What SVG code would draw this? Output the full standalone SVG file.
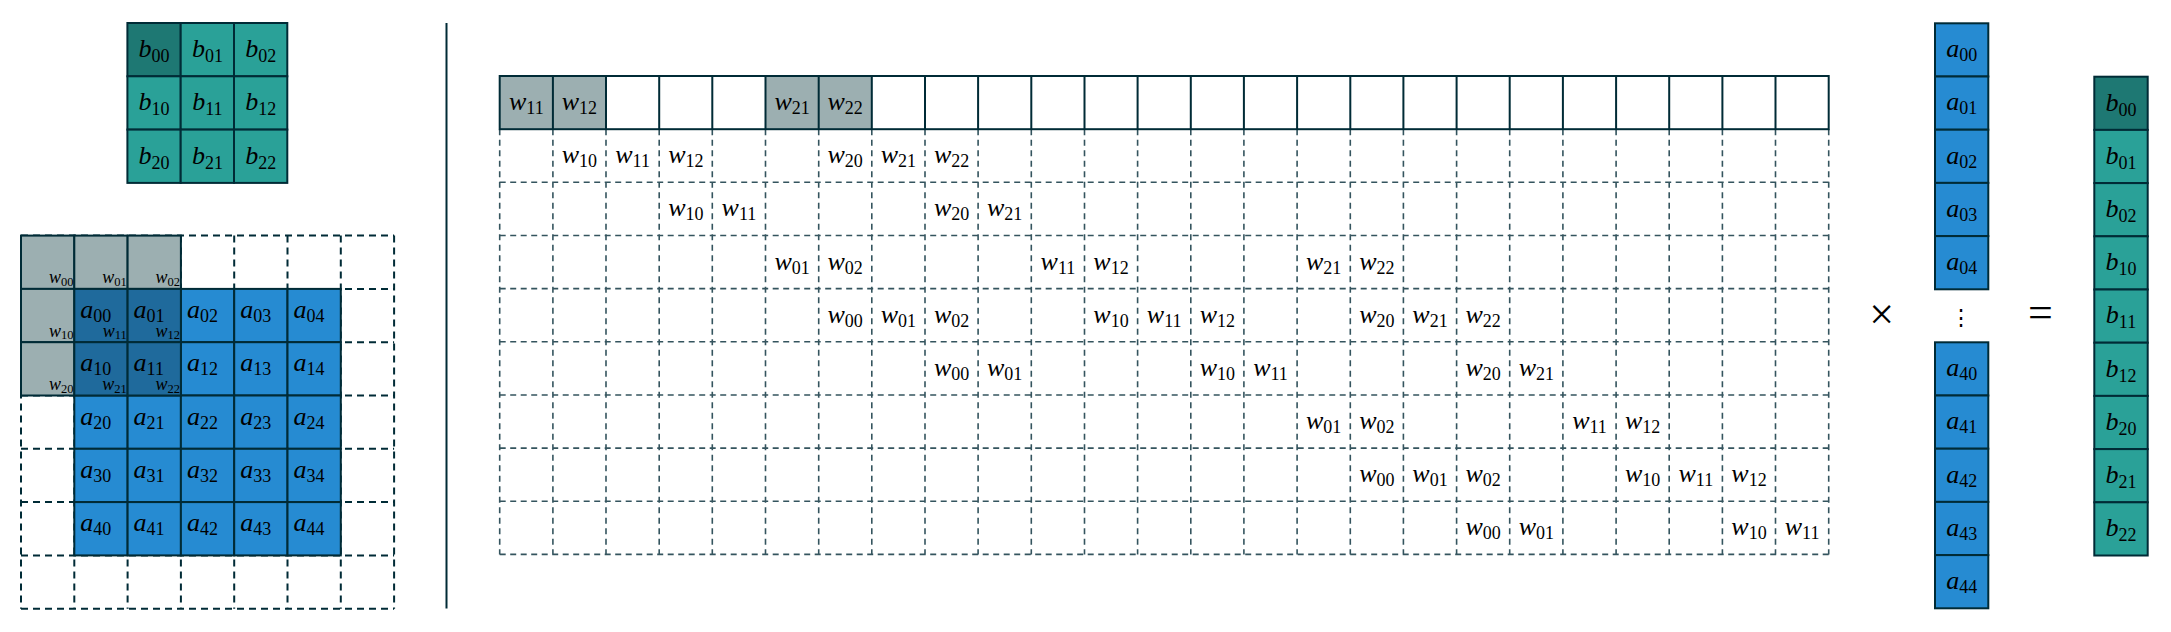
<svg xmlns="http://www.w3.org/2000/svg" width="2171" height="632" viewBox="0 0 2171 632">
<style>
.c{stroke:#002b36;stroke-width:2}
.g{fill:#9cafb1}
.bl{fill:#268bd2}
.db{fill:#1f6a9c}
.tl{fill:#2aa198}
.td{fill:#1e7873}
.wh{fill:#ffffff}
.dl{fill:none;stroke:#002b36;stroke-width:2;stroke-dasharray:7 5}
.dm{fill:none;stroke:#34545e;stroke-width:1.6;stroke-dasharray:6 4.5}
.sl{fill:none;stroke:#002b36;stroke-width:2}
text{font-family:"Liberation Serif","DejaVu Serif",serif;font-size:26px;fill:#000}
.m{text-anchor:middle}
.e{text-anchor:end}
.i{font-style:italic}
.s{font-size:18px}
.ss{font-size:12.5px}
.sw{font-size:18px}
</style>

<g id="output-kernel">
<rect class="c td" x="127.4" y="23" width="53.3" height="53.3"/>
<rect class="c tl" x="180.7" y="23" width="53.3" height="53.3"/>
<rect class="c tl" x="234" y="23" width="53.3" height="53.3"/>
<rect class="c tl" x="127.4" y="76.3" width="53.3" height="53.3"/>
<rect class="c tl" x="180.7" y="76.3" width="53.3" height="53.3"/>
<rect class="c tl" x="234" y="76.3" width="53.3" height="53.3"/>
<rect class="c tl" x="127.4" y="129.6" width="53.3" height="53.3"/>
<rect class="c tl" x="180.7" y="129.6" width="53.3" height="53.3"/>
<rect class="c tl" x="234" y="129.6" width="53.3" height="53.3"/>
<text class="m" x="154" y="57"><tspan class="i">b</tspan><tspan class="s" dy="5">00</tspan></text>
<text class="m" x="207.4" y="57"><tspan class="i">b</tspan><tspan class="s" dy="5">01</tspan></text>
<text class="m" x="260.7" y="57"><tspan class="i">b</tspan><tspan class="s" dy="5">02</tspan></text>
<text class="m" x="154" y="110.3"><tspan class="i">b</tspan><tspan class="s" dy="5">10</tspan></text>
<text class="m" x="207.4" y="110.3"><tspan class="i">b</tspan><tspan class="s" dy="5">11</tspan></text>
<text class="m" x="260.7" y="110.3"><tspan class="i">b</tspan><tspan class="s" dy="5">12</tspan></text>
<text class="m" x="154" y="163.6"><tspan class="i">b</tspan><tspan class="s" dy="5">20</tspan></text>
<text class="m" x="207.4" y="163.6"><tspan class="i">b</tspan><tspan class="s" dy="5">21</tspan></text>
<text class="m" x="260.7" y="163.6"><tspan class="i">b</tspan><tspan class="s" dy="5">22</tspan></text>
</g>

<g id="input-grid">
<path class="dl" d="M21 235.6H394.1M21 288.9H394.1M21 342.2H394.1M21 395.5H394.1M21 448.8H394.1M21 502.1H394.1M21 555.4H394.1M21 608.7H394.1M21 235.6V608.7M74.3 235.6V608.7M127.6 235.6V608.7M180.9 235.6V608.7M234.2 235.6V608.7M287.5 235.6V608.7M340.8 235.6V608.7M394.1 235.6V608.7"/>
<rect class="c g" x="21" y="235.6" width="53.3" height="53.3"/>
<rect class="c g" x="74.3" y="235.6" width="53.3" height="53.3"/>
<rect class="c g" x="127.6" y="235.6" width="53.3" height="53.3"/>
<rect class="c g" x="21" y="288.9" width="53.3" height="53.3"/>
<rect class="c g" x="21" y="342.2" width="53.3" height="53.3"/>
<rect class="c bl" x="180.9" y="288.9" width="53.3" height="53.3"/>
<rect class="c bl" x="234.2" y="288.9" width="53.3" height="53.3"/>
<rect class="c bl" x="287.5" y="288.9" width="53.3" height="53.3"/>
<rect class="c bl" x="180.9" y="342.2" width="53.3" height="53.3"/>
<rect class="c bl" x="234.2" y="342.2" width="53.3" height="53.3"/>
<rect class="c bl" x="287.5" y="342.2" width="53.3" height="53.3"/>
<rect class="c bl" x="74.3" y="395.5" width="53.3" height="53.3"/>
<rect class="c bl" x="127.6" y="395.5" width="53.3" height="53.3"/>
<rect class="c bl" x="180.9" y="395.5" width="53.3" height="53.3"/>
<rect class="c bl" x="234.2" y="395.5" width="53.3" height="53.3"/>
<rect class="c bl" x="287.5" y="395.5" width="53.3" height="53.3"/>
<rect class="c bl" x="74.3" y="448.8" width="53.3" height="53.3"/>
<rect class="c bl" x="127.6" y="448.8" width="53.3" height="53.3"/>
<rect class="c bl" x="180.9" y="448.8" width="53.3" height="53.3"/>
<rect class="c bl" x="234.2" y="448.8" width="53.3" height="53.3"/>
<rect class="c bl" x="287.5" y="448.8" width="53.3" height="53.3"/>
<rect class="c bl" x="74.3" y="502.1" width="53.3" height="53.3"/>
<rect class="c bl" x="127.6" y="502.1" width="53.3" height="53.3"/>
<rect class="c bl" x="180.9" y="502.1" width="53.3" height="53.3"/>
<rect class="c bl" x="234.2" y="502.1" width="53.3" height="53.3"/>
<rect class="c bl" x="287.5" y="502.1" width="53.3" height="53.3"/>
<rect class="c db" x="74.3" y="288.9" width="53.3" height="53.3"/>
<rect class="c db" x="127.6" y="288.9" width="53.3" height="53.3"/>
<rect class="c db" x="74.3" y="342.2" width="53.3" height="53.3"/>
<rect class="c db" x="127.6" y="342.2" width="53.3" height="53.3"/>
<text x="80.3" y="318"><tspan class="i">a</tspan><tspan class="s" dy="4">00</tspan></text>
<text x="133.6" y="318"><tspan class="i">a</tspan><tspan class="s" dy="4">01</tspan></text>
<text x="186.9" y="318"><tspan class="i">a</tspan><tspan class="s" dy="4">02</tspan></text>
<text x="240.2" y="318"><tspan class="i">a</tspan><tspan class="s" dy="4">03</tspan></text>
<text x="293.5" y="318"><tspan class="i">a</tspan><tspan class="s" dy="4">04</tspan></text>
<text x="80.3" y="371.3"><tspan class="i">a</tspan><tspan class="s" dy="4">10</tspan></text>
<text x="133.6" y="371.3"><tspan class="i">a</tspan><tspan class="s" dy="4">11</tspan></text>
<text x="186.9" y="371.3"><tspan class="i">a</tspan><tspan class="s" dy="4">12</tspan></text>
<text x="240.2" y="371.3"><tspan class="i">a</tspan><tspan class="s" dy="4">13</tspan></text>
<text x="293.5" y="371.3"><tspan class="i">a</tspan><tspan class="s" dy="4">14</tspan></text>
<text x="80.3" y="424.6"><tspan class="i">a</tspan><tspan class="s" dy="4">20</tspan></text>
<text x="133.6" y="424.6"><tspan class="i">a</tspan><tspan class="s" dy="4">21</tspan></text>
<text x="186.9" y="424.6"><tspan class="i">a</tspan><tspan class="s" dy="4">22</tspan></text>
<text x="240.2" y="424.6"><tspan class="i">a</tspan><tspan class="s" dy="4">23</tspan></text>
<text x="293.5" y="424.6"><tspan class="i">a</tspan><tspan class="s" dy="4">24</tspan></text>
<text x="80.3" y="477.9"><tspan class="i">a</tspan><tspan class="s" dy="4">30</tspan></text>
<text x="133.6" y="477.9"><tspan class="i">a</tspan><tspan class="s" dy="4">31</tspan></text>
<text x="186.9" y="477.9"><tspan class="i">a</tspan><tspan class="s" dy="4">32</tspan></text>
<text x="240.2" y="477.9"><tspan class="i">a</tspan><tspan class="s" dy="4">33</tspan></text>
<text x="293.5" y="477.9"><tspan class="i">a</tspan><tspan class="s" dy="4">34</tspan></text>
<text x="80.3" y="531.2"><tspan class="i">a</tspan><tspan class="s" dy="4">40</tspan></text>
<text x="133.6" y="531.2"><tspan class="i">a</tspan><tspan class="s" dy="4">41</tspan></text>
<text x="186.9" y="531.2"><tspan class="i">a</tspan><tspan class="s" dy="4">42</tspan></text>
<text x="240.2" y="531.2"><tspan class="i">a</tspan><tspan class="s" dy="4">43</tspan></text>
<text x="293.5" y="531.2"><tspan class="i">a</tspan><tspan class="s" dy="4">44</tspan></text>
<text class="e sw" x="73.5" y="283.4"><tspan class="i">w</tspan><tspan class="ss" dy="2.5">00</tspan></text>
<text class="e sw" x="126.8" y="283.4"><tspan class="i">w</tspan><tspan class="ss" dy="2.5">01</tspan></text>
<text class="e sw" x="180.1" y="283.4"><tspan class="i">w</tspan><tspan class="ss" dy="2.5">02</tspan></text>
<text class="e sw" x="73.5" y="336.7"><tspan class="i">w</tspan><tspan class="ss" dy="2.5">10</tspan></text>
<text class="e sw" x="126.8" y="336.7"><tspan class="i">w</tspan><tspan class="ss" dy="2.5">11</tspan></text>
<text class="e sw" x="180.1" y="336.7"><tspan class="i">w</tspan><tspan class="ss" dy="2.5">12</tspan></text>
<text class="e sw" x="73.5" y="390"><tspan class="i">w</tspan><tspan class="ss" dy="2.5">20</tspan></text>
<text class="e sw" x="126.8" y="390"><tspan class="i">w</tspan><tspan class="ss" dy="2.5">21</tspan></text>
<text class="e sw" x="180.1" y="390"><tspan class="i">w</tspan><tspan class="ss" dy="2.5">22</tspan></text>
</g>

<g id="separator">
<path class="sl" d="M446.5 23V608.5"/>
</g>

<g id="matrix">
<path class="dm" d="M499.7 182.3H1828.7M499.7 235.5H1828.7M499.7 288.6H1828.7M499.7 341.8H1828.7M499.7 395H1828.7M499.7 448.1H1828.7M499.7 501.3H1828.7M499.7 554.4H1828.7M499.7 129.2V554.4M552.9 129.2V554.4M606 129.2V554.4M659.2 129.2V554.4M712.3 129.2V554.4M765.5 129.2V554.4M818.7 129.2V554.4M871.8 129.2V554.4M925 129.2V554.4M978.1 129.2V554.4M1031.3 129.2V554.4M1084.5 129.2V554.4M1137.6 129.2V554.4M1190.8 129.2V554.4M1243.9 129.2V554.4M1297.1 129.2V554.4M1350.3 129.2V554.4M1403.4 129.2V554.4M1456.6 129.2V554.4M1509.7 129.2V554.4M1562.9 129.2V554.4M1616.1 129.2V554.4M1669.2 129.2V554.4M1722.4 129.2V554.4M1775.5 129.2V554.4M1828.7 129.2V554.4"/>
<rect class="wh" x="499.7" y="76" width="1329" height="53.2"/>
<rect class="g" x="499.7" y="76" width="53.16" height="53.2"/>
<rect class="g" x="552.9" y="76" width="53.16" height="53.2"/>
<rect class="g" x="765.5" y="76" width="53.16" height="53.2"/>
<rect class="g" x="818.7" y="76" width="53.16" height="53.2"/>
<rect class="sl" x="499.7" y="76" width="1329" height="53.2"/>
<path class="sl" d="M552.9 76V129.2M606 76V129.2M659.2 76V129.2M712.3 76V129.2M765.5 76V129.2M818.7 76V129.2M871.8 76V129.2M925 76V129.2M978.1 76V129.2M1031.3 76V129.2M1084.5 76V129.2M1137.6 76V129.2M1190.8 76V129.2M1243.9 76V129.2M1297.1 76V129.2M1350.3 76V129.2M1403.4 76V129.2M1456.6 76V129.2M1509.7 76V129.2M1562.9 76V129.2M1616.1 76V129.2M1669.2 76V129.2M1722.4 76V129.2M1775.5 76V129.2"/>
<text class="m" x="526.3" y="110"><tspan class="i">w</tspan><tspan class="s" dy="4">11</tspan></text>
<text class="m" x="579.4" y="110"><tspan class="i">w</tspan><tspan class="s" dy="4">12</tspan></text>
<text class="m" x="792.1" y="110"><tspan class="i">w</tspan><tspan class="s" dy="4">21</tspan></text>
<text class="m" x="845.2" y="110"><tspan class="i">w</tspan><tspan class="s" dy="4">22</tspan></text>

<text class="m" x="579.4" y="163.1"><tspan class="i">w</tspan><tspan class="s" dy="4">10</tspan></text>
<text class="m" x="632.6" y="163.1"><tspan class="i">w</tspan><tspan class="s" dy="4">11</tspan></text>
<text class="m" x="685.8" y="163.1"><tspan class="i">w</tspan><tspan class="s" dy="4">12</tspan></text>
<text class="m" x="845.2" y="163.1"><tspan class="i">w</tspan><tspan class="s" dy="4">20</tspan></text>
<text class="m" x="898.4" y="163.1"><tspan class="i">w</tspan><tspan class="s" dy="4">21</tspan></text>
<text class="m" x="951.6" y="163.1"><tspan class="i">w</tspan><tspan class="s" dy="4">22</tspan></text>

<text class="m" x="685.8" y="216.3"><tspan class="i">w</tspan><tspan class="s" dy="4">10</tspan></text>
<text class="m" x="738.9" y="216.3"><tspan class="i">w</tspan><tspan class="s" dy="4">11</tspan></text>
<text class="m" x="951.6" y="216.3"><tspan class="i">w</tspan><tspan class="s" dy="4">20</tspan></text>
<text class="m" x="1004.7" y="216.3"><tspan class="i">w</tspan><tspan class="s" dy="4">21</tspan></text>

<text class="m" x="792.1" y="269.5"><tspan class="i">w</tspan><tspan class="s" dy="4">01</tspan></text>
<text class="m" x="845.2" y="269.5"><tspan class="i">w</tspan><tspan class="s" dy="4">02</tspan></text>
<text class="m" x="1057.9" y="269.5"><tspan class="i">w</tspan><tspan class="s" dy="4">11</tspan></text>
<text class="m" x="1111" y="269.5"><tspan class="i">w</tspan><tspan class="s" dy="4">12</tspan></text>
<text class="m" x="1323.7" y="269.5"><tspan class="i">w</tspan><tspan class="s" dy="4">21</tspan></text>
<text class="m" x="1376.8" y="269.5"><tspan class="i">w</tspan><tspan class="s" dy="4">22</tspan></text>

<text class="m" x="845.2" y="322.6"><tspan class="i">w</tspan><tspan class="s" dy="4">00</tspan></text>
<text class="m" x="898.4" y="322.6"><tspan class="i">w</tspan><tspan class="s" dy="4">01</tspan></text>
<text class="m" x="951.6" y="322.6"><tspan class="i">w</tspan><tspan class="s" dy="4">02</tspan></text>
<text class="m" x="1111" y="322.6"><tspan class="i">w</tspan><tspan class="s" dy="4">10</tspan></text>
<text class="m" x="1164.2" y="322.6"><tspan class="i">w</tspan><tspan class="s" dy="4">11</tspan></text>
<text class="m" x="1217.4" y="322.6"><tspan class="i">w</tspan><tspan class="s" dy="4">12</tspan></text>
<text class="m" x="1376.8" y="322.6"><tspan class="i">w</tspan><tspan class="s" dy="4">20</tspan></text>
<text class="m" x="1430" y="322.6"><tspan class="i">w</tspan><tspan class="s" dy="4">21</tspan></text>
<text class="m" x="1483.2" y="322.6"><tspan class="i">w</tspan><tspan class="s" dy="4">22</tspan></text>

<text class="m" x="951.6" y="375.8"><tspan class="i">w</tspan><tspan class="s" dy="4">00</tspan></text>
<text class="m" x="1004.7" y="375.8"><tspan class="i">w</tspan><tspan class="s" dy="4">01</tspan></text>
<text class="m" x="1217.4" y="375.8"><tspan class="i">w</tspan><tspan class="s" dy="4">10</tspan></text>
<text class="m" x="1270.5" y="375.8"><tspan class="i">w</tspan><tspan class="s" dy="4">11</tspan></text>
<text class="m" x="1483.2" y="375.8"><tspan class="i">w</tspan><tspan class="s" dy="4">20</tspan></text>
<text class="m" x="1536.3" y="375.8"><tspan class="i">w</tspan><tspan class="s" dy="4">21</tspan></text>

<text class="m" x="1323.7" y="429"><tspan class="i">w</tspan><tspan class="s" dy="4">01</tspan></text>
<text class="m" x="1376.8" y="429"><tspan class="i">w</tspan><tspan class="s" dy="4">02</tspan></text>
<text class="m" x="1589.5" y="429"><tspan class="i">w</tspan><tspan class="s" dy="4">11</tspan></text>
<text class="m" x="1642.6" y="429"><tspan class="i">w</tspan><tspan class="s" dy="4">12</tspan></text>

<text class="m" x="1376.8" y="482.1"><tspan class="i">w</tspan><tspan class="s" dy="4">00</tspan></text>
<text class="m" x="1430" y="482.1"><tspan class="i">w</tspan><tspan class="s" dy="4">01</tspan></text>
<text class="m" x="1483.2" y="482.1"><tspan class="i">w</tspan><tspan class="s" dy="4">02</tspan></text>
<text class="m" x="1642.6" y="482.1"><tspan class="i">w</tspan><tspan class="s" dy="4">10</tspan></text>
<text class="m" x="1695.8" y="482.1"><tspan class="i">w</tspan><tspan class="s" dy="4">11</tspan></text>
<text class="m" x="1749" y="482.1"><tspan class="i">w</tspan><tspan class="s" dy="4">12</tspan></text>

<text class="m" x="1483.2" y="535.3"><tspan class="i">w</tspan><tspan class="s" dy="4">00</tspan></text>
<text class="m" x="1536.3" y="535.3"><tspan class="i">w</tspan><tspan class="s" dy="4">01</tspan></text>
<text class="m" x="1749" y="535.3"><tspan class="i">w</tspan><tspan class="s" dy="4">10</tspan></text>
<text class="m" x="1802.1" y="535.3"><tspan class="i">w</tspan><tspan class="s" dy="4">11</tspan></text>
</g>

<g id="times">
<text class="m" x="1881.7" y="329" style="font-size:44px">×</text>
</g>

<g id="input-vector">
<rect class="c bl" x="1935" y="23.3" width="53.3" height="53.2"/>
<rect class="c bl" x="1935" y="76.5" width="53.3" height="53.2"/>
<rect class="c bl" x="1935" y="129.7" width="53.3" height="53.2"/>
<rect class="c bl" x="1935" y="182.9" width="53.3" height="53.2"/>
<rect class="c bl" x="1935" y="236.1" width="53.3" height="53.2"/>
<rect class="c bl" x="1935" y="342.3" width="53.3" height="53.2"/>
<rect class="c bl" x="1935" y="395.5" width="53.3" height="53.2"/>
<rect class="c bl" x="1935" y="448.7" width="53.3" height="53.2"/>
<rect class="c bl" x="1935" y="501.9" width="53.3" height="53.2"/>
<rect class="c bl" x="1935" y="555.1" width="53.3" height="53.2"/>
<text class="m" x="1961.7" y="57.2"><tspan class="i">a</tspan><tspan class="s" dy="4">00</tspan></text>
<text class="m" x="1961.7" y="110.4"><tspan class="i">a</tspan><tspan class="s" dy="4">01</tspan></text>
<text class="m" x="1961.7" y="163.6"><tspan class="i">a</tspan><tspan class="s" dy="4">02</tspan></text>
<text class="m" x="1961.7" y="216.8"><tspan class="i">a</tspan><tspan class="s" dy="4">03</tspan></text>
<text class="m" x="1961.7" y="270"><tspan class="i">a</tspan><tspan class="s" dy="4">04</tspan></text>
<text class="m" x="1961.2" y="325" style="font-family:'DejaVu Serif',serif;font-size:22px">⋮</text>
<text class="m" x="1961.7" y="376.2"><tspan class="i">a</tspan><tspan class="s" dy="4">40</tspan></text>
<text class="m" x="1961.7" y="429.4"><tspan class="i">a</tspan><tspan class="s" dy="4">41</tspan></text>
<text class="m" x="1961.7" y="482.6"><tspan class="i">a</tspan><tspan class="s" dy="4">42</tspan></text>
<text class="m" x="1961.7" y="535.8"><tspan class="i">a</tspan><tspan class="s" dy="4">43</tspan></text>
<text class="m" x="1961.7" y="589"><tspan class="i">a</tspan><tspan class="s" dy="4">44</tspan></text>
</g>

<g id="equals">
<text class="m" x="2040.5" y="327" style="font-size:44px">=</text>
</g>

<g id="output-vector">
<rect class="c td" x="2094.3" y="76.7" width="53.4" height="53.2"/>
<rect class="c tl" x="2094.3" y="129.9" width="53.4" height="53.2"/>
<rect class="c tl" x="2094.3" y="183.1" width="53.4" height="53.2"/>
<rect class="c tl" x="2094.3" y="236.3" width="53.4" height="53.2"/>
<rect class="c tl" x="2094.3" y="289.5" width="53.4" height="53.2"/>
<rect class="c tl" x="2094.3" y="342.7" width="53.4" height="53.2"/>
<rect class="c tl" x="2094.3" y="395.9" width="53.4" height="53.2"/>
<rect class="c tl" x="2094.3" y="449.1" width="53.4" height="53.2"/>
<rect class="c tl" x="2094.3" y="502.3" width="53.4" height="53.2"/>
<text class="m" x="2121" y="110.6"><tspan class="i">b</tspan><tspan class="s" dy="5">00</tspan></text>
<text class="m" x="2121" y="163.8"><tspan class="i">b</tspan><tspan class="s" dy="5">01</tspan></text>
<text class="m" x="2121" y="217"><tspan class="i">b</tspan><tspan class="s" dy="5">02</tspan></text>
<text class="m" x="2121" y="270.2"><tspan class="i">b</tspan><tspan class="s" dy="5">10</tspan></text>
<text class="m" x="2121" y="323.4"><tspan class="i">b</tspan><tspan class="s" dy="5">11</tspan></text>
<text class="m" x="2121" y="376.6"><tspan class="i">b</tspan><tspan class="s" dy="5">12</tspan></text>
<text class="m" x="2121" y="429.8"><tspan class="i">b</tspan><tspan class="s" dy="5">20</tspan></text>
<text class="m" x="2121" y="483"><tspan class="i">b</tspan><tspan class="s" dy="5">21</tspan></text>
<text class="m" x="2121" y="536.2"><tspan class="i">b</tspan><tspan class="s" dy="5">22</tspan></text>
</g>
</svg>
